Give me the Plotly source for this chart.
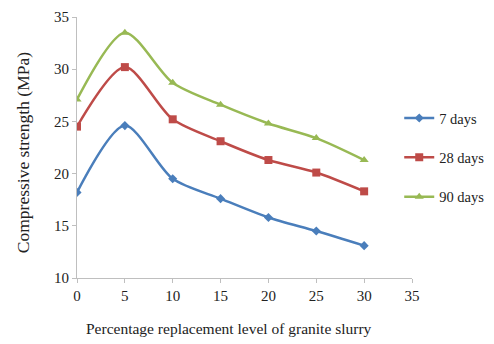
import plotly.graph_objects as go

x_vals = [0, 5, 10, 15, 20, 25, 30]
days7 = [18.2, 24.6, 19.5, 17.6, 15.8, 14.5, 13.1]
days28 = [24.5, 30.2, 25.2, 23.1, 21.3, 20.1, 18.3]
days90 = [27.1, 33.5, 28.7, 26.6, 24.8, 23.4, 21.3]
series_names = ["7 days", "28 days", "90 days"]
colors = ["#4A7EBB", "#BE4B48", "#98B954"]
symbols = ["diamond", "square", "triangle-up"]
sizes = [7, 8, 8]
x_title = "Percentage replacement level of granite slurry"
y_title = "Compressive strength (MPa)"

FAM = "Liberation Serif, Times New Roman, serif"
def txt(sz):
    return dict(family=FAM, size=sz, color="#222")

fig = go.Figure()
for name, ys, c, s, sz in zip(series_names, [days7, days28, days90], colors, symbols, sizes):
    fig.add_trace(go.Scatter(
        x=x_vals, y=ys, name=name, mode="lines+markers",
        line=dict(color=c, width=2.5, shape="spline", smoothing=0.8),
        marker=dict(symbol=s, size=sz, color=c),
        legendgroup=name,
    ))

# page body has an 8px margin, so the figure is sized/placed to compensate
fig.update_layout(
    width=486, height=336,
    margin=dict(l=69, r=82, t=9, b=66, autoexpand=False),
    paper_bgcolor="white", plot_bgcolor="white",
    font=txt(15),
    showlegend=True,
    legend=dict(xref="container", yref="container", x=0.805, y=0.72,
                xanchor="left", yanchor="top",
                tracegroupgap=17.5, font=txt(14.5), itemwidth=30,
                bgcolor="rgba(0,0,0,0)"),
    annotations=[
        dict(text=x_title, xref="paper", yref="paper", x=0.4537, y=-0.1916,
             xanchor="center", yanchor="middle", showarrow=False, font=txt(15.5)),
        dict(text=y_title, xref="paper", yref="paper", x=-0.1612, y=0.482,
             xanchor="center", yanchor="middle", showarrow=False, textangle=-90,
             font=txt(17.5)),
    ],
)
fig.update_xaxes(range=[0, 35], dtick=5, showgrid=False, zeroline=False,
                 showline=True, linecolor="#BFBFBF", linewidth=1,
                 ticks="outside", ticklen=4, tickcolor="#BFBFBF",
                 automargin=False, tickfont=txt(15))
fig.update_yaxes(range=[10, 35], dtick=5, showgrid=False, zeroline=False,
                 showline=True, linecolor="#BFBFBF", linewidth=1,
                 ticks="outside", ticklen=4, tickcolor="#BFBFBF",
                 automargin=False, tickfont=txt(15))
fig.write_html("out.html")
